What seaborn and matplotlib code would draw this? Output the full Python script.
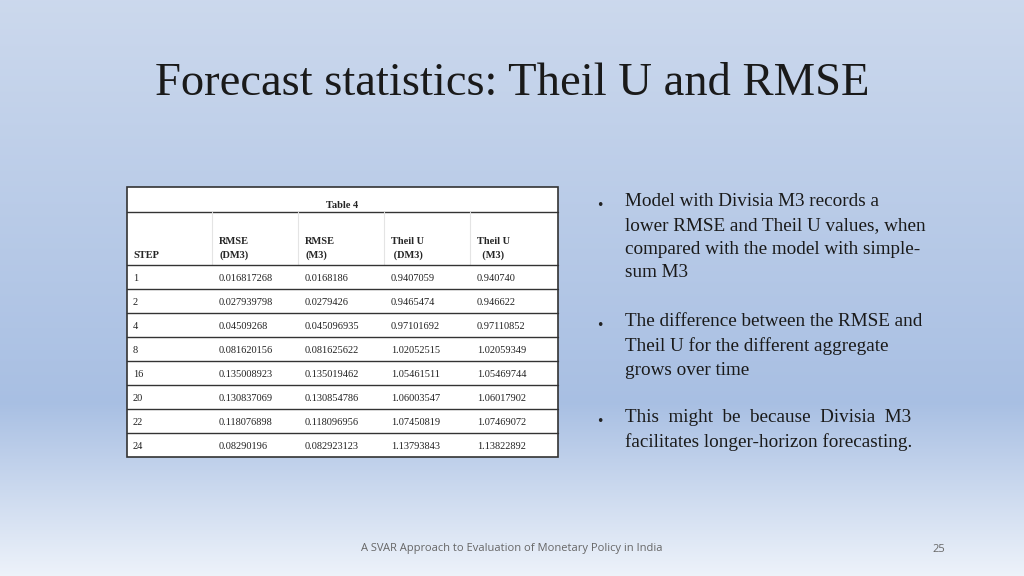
import numpy as np
import matplotlib
matplotlib.use("Agg")
import matplotlib.pyplot as plt
import seaborn as sns

# table data (kept as printed strings)
steps = ["1", "2", "4", "8", "16", "20", "22", "24"]
rmse_dm3 = ["0.016817268", "0.027939798", "0.04509268", "0.081620156",
            "0.135008923", "0.130837069", "0.118076898", "0.08290196"]
rmse_m3 = ["0.0168186", "0.0279426", "0.045096935", "0.081625622",
           "0.135019462", "0.130854786", "0.118096956", "0.082923123"]
theil_dm3 = ["0.9407059", "0.9465474", "0.97101692", "1.02052515",
             "1.05461511", "1.06003547", "1.07450819", "1.13793843"]
theil_m3 = ["0.940740", "0.946622", "0.97110852", "1.02059349",
            "1.05469744", "1.06017902", "1.07469072", "1.13822892"]
headers = ["STEP", "RMSE\n(DM3)", "RMSE\n(M3)", "Theil U\n (DM3)", "Theil U\n  (M3)"]

bullets = [
    "Model with Divisia M3 records a\nlower RMSE and Theil U values, when\ncompared with the model with simple-\nsum M3",
    "The difference between the RMSE and\nTheil U for the different aggregate\ngrows over time",
    "This  might  be  because  Divisia  M3\nfacilitates longer-horizon forecasting.",
]

sns.set_theme(style="white")
serif = "Liberation Serif"

fig = plt.figure(figsize=(10.24, 5.76), dpi=100)
ax = fig.add_axes([0, 0, 1, 1])
ax.set_xlim(0, 1024)
ax.set_ylim(576, 0)
ax.axis("off")

# slide background gradient
top = np.array([0.80, 0.85, 0.93])
mid = np.array([0.66, 0.75, 0.89])
bot = np.array([0.93, 0.95, 0.98])
t = np.linspace(0, 1, 300)[:, None]
grad = np.where(t < 0.7, top + (mid - top) * (t / 0.7), mid + (bot - mid) * ((t - 0.7) / 0.3))
ax.imshow(grad[:, None, :].repeat(2, axis=1), extent=[0, 1024, 576, 0], aspect="auto", zorder=0)

ax.text(512, 84, "Forecast statistics: Theil U and RMSE", ha="center", va="center",
        fontsize=33.6, family=serif, color="#1a1a1a")

# table
x0, x1, y0, y1 = 127, 558, 187, 457
ax.add_patch(plt.Rectangle((x0, y0), x1 - x0, y1 - y0, facecolor="white",
                           edgecolor="#333333", lw=1.2, zorder=2))
col_x = [133, 219, 305, 391, 477]
ax.text((x0 + x1) / 2, 205, "Table 4", ha="center", va="center", fontsize=7.5,
        family=serif, weight="bold", zorder=3)
ax.plot([x0, x1], [212, 212], color="#333333", lw=1, zorder=3)
for cx in [212, 298, 384, 470]:
    ax.plot([cx, cx], [212, 265], color="#e4e4e4", lw=0.8, zorder=3)
for cx, h in zip(col_x, headers):
    ax.text(cx, 260, h, ha="left", va="bottom", fontsize=7.5, family=serif,
            weight="bold", linespacing=1.6, zorder=3)
row_h = (y1 - 265) / len(steps)
columns = [steps, rmse_dm3, rmse_m3, theil_dm3, theil_m3]
for i in range(len(steps)):
    ytop = 265 + i * row_h
    ax.plot([x0, x1], [ytop, ytop], color="#333333", lw=1, zorder=3)
    for cx, col in zip(col_x, columns):
        ax.text(cx, ytop + row_h * 0.55, col[i], ha="left", va="center",
                fontsize=7.5, family=serif, color="#222222", zorder=3)

# bullets
for y, b in zip([205, 325, 421], bullets):
    ax.text(600, y, "\u2022", ha="center", va="center", fontsize=9, color="#222222")
    ax.text(625, y - 12, b, ha="left", va="top", fontsize=13.8, family=serif,
            color="#1a1a1a", linespacing=1.52)

ax.text(512, 549, "A SVAR Approach to Evaluation of Monetary Policy in India",
        ha="center", va="center", fontsize=8, family="Open Sans", color="#666666")
ax.text(939, 549, "25", ha="center", va="center", fontsize=8, family="Open Sans", color="#666666")

fig.savefig("out.png", dpi=100)
